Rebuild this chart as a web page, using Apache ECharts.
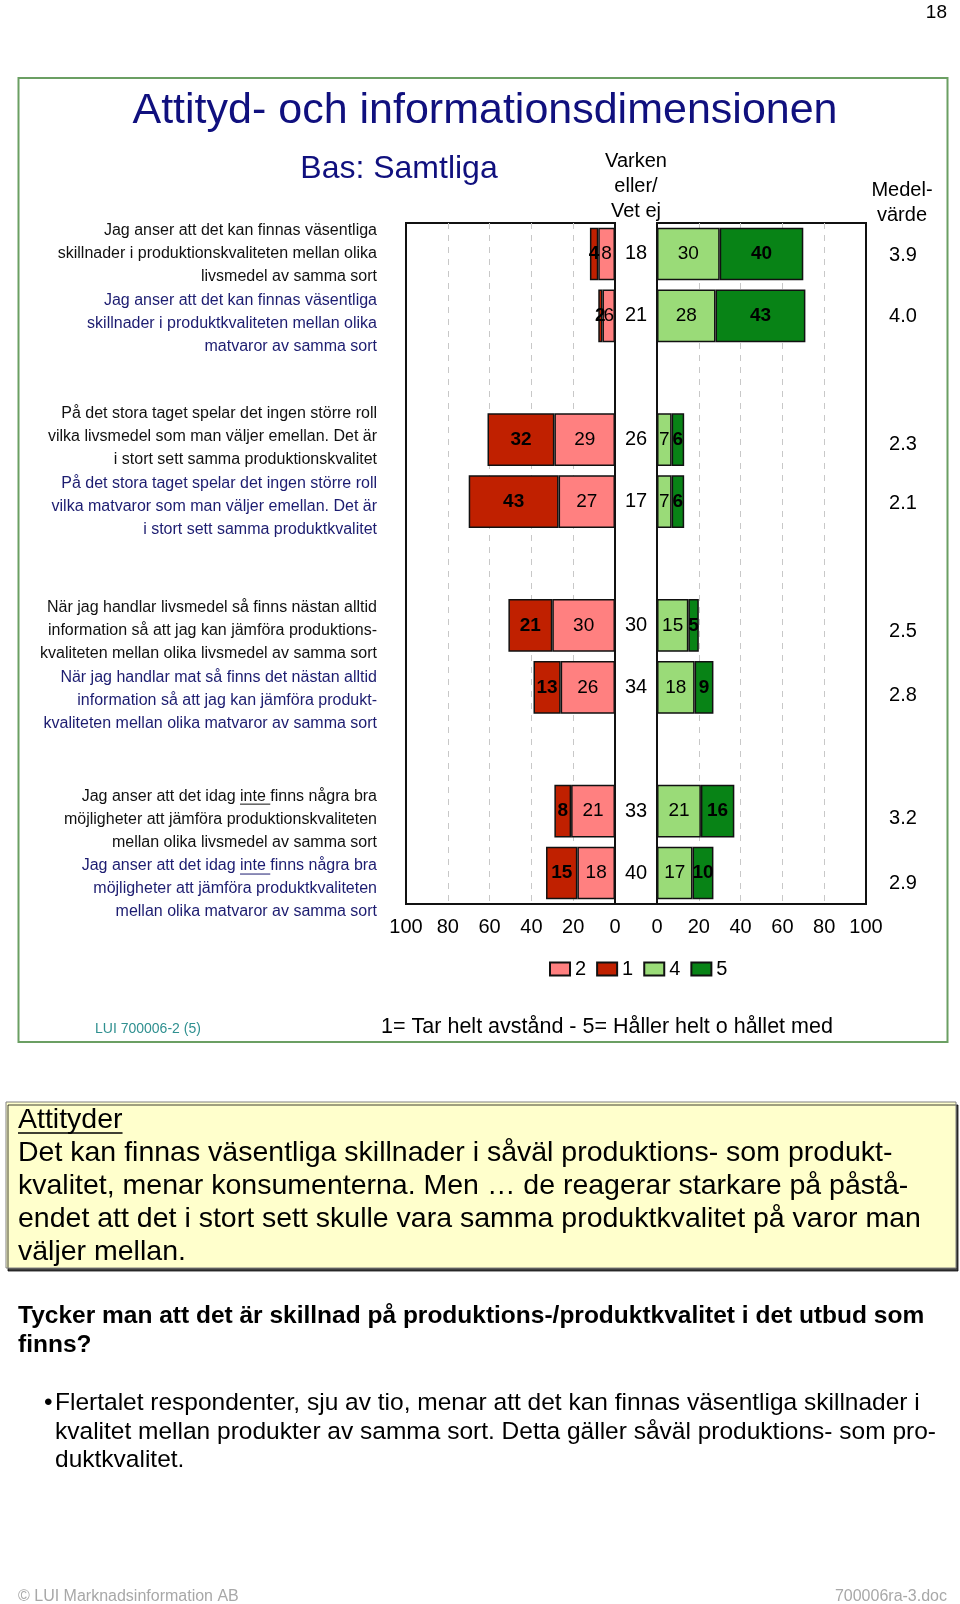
<!DOCTYPE html>
<html><head><meta charset="utf-8">
<script src="https://cdn.jsdelivr.net/npm/echarts@6/dist/echarts.min.js"></script>
<style>html,body{margin:0;padding:0;background:#fff}#c{position:absolute;left:0;top:0;width:960px;height:1604px}</style>
</head><body><div id="c"></div>
<script>
// ---------- data ----------
const statements = [
 'Jag anser att det kan finnas väsentliga\nskillnader i produktionskvaliteten mellan olika\nlivsmedel av samma sort',
 'Jag anser att det kan finnas väsentliga\nskillnader i produktkvaliteten mellan olika\nmatvaror av samma sort',
 'På det stora taget spelar det ingen större roll\nvilka livsmedel som man väljer emellan. Det är\ni stort sett samma produktionskvalitet',
 'På det stora taget spelar det ingen större roll\nvilka matvaror som man väljer emellan. Det är\ni stort sett samma produktkvalitet',
 'När jag handlar livsmedel så finns nästan alltid\ninformation så att jag kan jämföra produktions-\nkvaliteten mellan olika livsmedel av samma sort',
 'När jag handlar mat så finns det nästan alltid\ninformation så att jag kan jämföra produkt-\nkvaliteten mellan olika matvaror av samma sort',
 'Jag anser att det idag inte finns några bra\nmöjligheter att jämföra produktionskvaliteten\nmellan olika livsmedel av samma sort',
 'Jag anser att det idag inte finns några bra\nmöjligheter att jämföra produktkvaliteten\nmellan olika matvaror av samma sort'
];
const val1 = [4, 2, 32, 43, 21, 13, 8, 15];      // 1 = Tar helt avstånd
const val2 = [8, 6, 29, 27, 30, 26, 21, 18];     // 2
const valNeutral = [18, 21, 26, 17, 30, 34, 33, 40]; // Varken eller / Vet ej
const val4 = [30, 28, 7, 7, 15, 18, 21, 17];     // 4
const val5 = [40, 43, 6, 6, 5, 9, 16, 10];       // 5 = Håller helt o hållet med
const medelvarde = ['3.9', '4.0', '2.3', '2.1', '2.5', '2.8', '3.2', '2.9'];
const legendNames = ['2', '1', '4', '5'];
const neutralHeader = 'Varken\neller/\nVet ej';

// ---------- layout ----------
const FF = '"Liberation Sans", Arial, Helvetica, sans-serif';
const G_TOP = 223, G_H = 681, L_LEFT = 406, PW = 209, MW = 42;
const R_LEFT = L_LEFT + PW + MW;
const LABEL_MARGIN = 29;
// vertical nudges (px) of the text columns relative to the bar rows
const stmtShift = [0, 8, -3, 5, 5, 13, 8, 16];
const meanShift = [2, 1, 5, 2, 6, 8, 7, 10];

const slotIds = [], slotRow = [];
statements.forEach((s, i) => {
  slotIds.push('r' + i); slotRow.push(i);
  if (i % 2 === 1 && i < statements.length - 1) { slotIds.push('gap' + i); slotRow.push(null); }
});
const toSlots = arr => slotRow.map(r => r === null ? '-' : arr[r]);

const stmtRich = {
  a: { fontSize: 16, lineHeight: 23, color: '#111', fontFamily: FF },
  b: { fontSize: 16, lineHeight: 23, color: '#1c1c70', fontFamily: FF }
};
const meanRich = { m: { fontSize: 20, lineHeight: 24, color: '#000', fontFamily: FF, align: 'center' } };
stmtShift.forEach((s, r) => { stmtRich['sp' + r] = { fontSize: 1, lineHeight: Math.max(1, Math.abs(2 * s)) }; });
meanShift.forEach((s, r) => { meanRich['sp' + r] = { fontSize: 1, lineHeight: Math.max(1, Math.abs(2 * s)) }; });
function withShift(body, r, s) {
  if (s > 0) return '{sp' + r + '| }\n' + body;
  if (s < 0) return body + '\n{sp' + r + '| }';
  return body;
}
function stmtLabel(value, index) {
  const r = slotRow[index];
  if (r === null || r === undefined) return '';
  const st = r % 2 === 0 ? 'a' : 'b';
  const body = statements[r].split('\n').map(l => '{' + st + '|' + l + '}').join('\n');
  return withShift(body, r, stmtShift[r]);
}
function meanLabel(value, index) {
  const r = slotRow[index];
  if (r === null || r === undefined) return '';
  return withShift('{m|' + medelvarde[r] + '}', r, meanShift[r]);
}

const barLabel = bold => ({
  show: true, position: 'inside', color: '#000', fontSize: 19, fontFamily: FF,
  fontWeight: bold ? 'bold' : 'normal', textBorderWidth: 0
});
const bar = (name, data, color, axis, bold) => ({
  name, type: 'bar', xAxisIndex: axis, yAxisIndex: axis, stack: axis === 0 ? 'neg' : 'pos',
  data: toSlots(data), barWidth: '85%',
  itemStyle: { color, borderColor: '#111', borderWidth: 1.5 },
  label: barLabel(bold), emphasis: { disabled: true }
});

const splitLine = { show: true, showMinLine: false, showMaxLine: false,
  lineStyle: { color: '#c8c8c8', type: [6, 6], width: 1 } };
const valueAxisLabel = { fontSize: 20, color: '#000', fontFamily: FF, margin: 13 };

function txt(text, x, y, o) {
  return { type: 'text', x, y, silent: true,
    style: Object.assign({ text, fill: '#000', fontSize: 20, fontFamily: FF,
      textAlign: 'left', textVerticalAlign: 'middle', align: 'left', verticalAlign: 'middle' }, o) };
}

const graphics = [
  txt('18', 947, 13, { fontSize: 19, textAlign: 'right', align: 'right' }),
  { type: 'rect', silent: true, z: -10, shape: { x: 18.5, y: 78, width: 929, height: 964 },
    style: { fill: 'none', stroke: '#6b9f63', lineWidth: 2 } },
  txt('Attityd- och informationsdimensionen', 485, 111, { fontSize: 43, fill: '#10107e', textAlign: 'center', align: 'center' }),
  txt('Bas: Samtliga', 399, 169, { fontSize: 32, fill: '#10107e', textAlign: 'center', align: 'center' }),
  txt('Medel-\nvärde', 902, 203, { fontSize: 20, lineHeight: 25, textAlign: 'center', align: 'center' }),
  txt('LUI 700006-2 (5)', 95, 1029, { fontSize: 14, fill: '#2f9090' }),
  txt('1= Tar helt avstånd - 5= Håller helt o hållet med', 607, 1027, { fontSize: 21.5, textAlign: 'center', align: 'center' }),
  { type: 'rect', silent: true, shape: { x: 6, y: 1102, width: 950, height: 166 },
    style: { fill: '#FFFFCC', stroke: '#808080', lineWidth: 1, shadowColor: 'rgba(0,0,0,0.75)', shadowOffsetX: 2, shadowOffsetY: 3, shadowBlur: 0 } },
  txt('Attityder\nDet kan finnas väsentliga skillnader i såväl produktions- som produkt-\nkvalitet, menar konsumenterna. Men … de reagerar starkare på påstå-\nendet att det i stort sett skulle vara samma produktkvalitet på varor man\nväljer mellan.',
      18, 1104, { fontSize: 28.5, lineHeight: 33, textVerticalAlign: 'top', verticalAlign: 'top' }),
  txt('Tycker man att det är skillnad på produktions-/produktkvalitet i det utbud som\nfinns?',
      18, 1302, { fontSize: 24.5, fontWeight: 'bold', lineHeight: 29, textVerticalAlign: 'top', verticalAlign: 'top' }),
  txt('•', 44, 1403, { fontSize: 24.5 }),
  txt('Flertalet respondenter, sju av tio, menar att det kan finnas väsentliga skillnader i\nkvalitet mellan produkter av samma sort. Detta gäller såväl produktions- som pro-\nduktkvalitet.',
      55, 1389, { fontSize: 24.5, lineHeight: 28.5, textVerticalAlign: 'top', verticalAlign: 'top' }),
  txt('© LUI Marknadsinformation AB', 18, 1597, { fontSize: 16, fill: '#a8a8a8' }),
  txt('700006ra-3.doc', 947, 1597, { fontSize: 16, fill: '#a8a8a8', textAlign: 'right', align: 'right' })
];

const option = {
  backgroundColor: '#fff',
  animation: false,
  textStyle: { fontFamily: FF },
  legend: {
    data: legendNames, left: 549, top: 959, padding: 0, itemWidth: 20, itemHeight: 13, itemGap: 10,
    icon: 'rect', selectedMode: false,
    textStyle: { fontSize: 20, color: '#000', fontFamily: FF }
  },
  grid: [
    { left: L_LEFT, top: G_TOP, width: PW, height: G_H, show: true, borderColor: '#111', borderWidth: 2, backgroundColor: '#fff', outerBoundsMode: 'none' },
    { left: R_LEFT, top: G_TOP, width: PW, height: G_H, show: true, borderColor: '#111', borderWidth: 2, backgroundColor: '#fff', outerBoundsMode: 'none' },
    { left: L_LEFT + PW, top: G_TOP, width: MW, height: G_H, outerBoundsMode: 'none' }
  ],
  xAxis: [
    { gridIndex: 0, type: 'value', min: 0, max: 100, interval: 20, inverse: true, position: 'bottom',
      axisLine: { show: false }, axisTick: { show: false }, axisLabel: valueAxisLabel, splitLine },
    { gridIndex: 1, type: 'value', min: 0, max: 100, interval: 20, position: 'bottom',
      axisLine: { show: false }, axisTick: { show: false }, axisLabel: valueAxisLabel, splitLine },
    { gridIndex: 2, type: 'category', data: [neutralHeader], position: 'top',
      axisLine: { show: false }, axisTick: { show: false }, splitLine: { show: false },
      axisLabel: { fontSize: 20, lineHeight: 25, color: '#000', fontFamily: FF, margin: -1 } },
    { gridIndex: 2, type: 'category', data: [neutralHeader], position: 'bottom',
      axisLine: { show: true, lineStyle: { color: '#111', width: 2 } }, axisTick: { show: false },
      axisLabel: { show: false }, splitLine: { show: false } }
  ],
  yAxis: [
    { gridIndex: 0, type: 'category', data: slotIds, inverse: true,
      axisLine: { show: false }, axisTick: { show: false },
      axisLabel: { interval: 0, margin: LABEL_MARGIN, formatter: stmtLabel, rich: stmtRich } },
    { gridIndex: 1, type: 'category', data: slotIds, inverse: true, position: 'right',
      axisLine: { show: false }, axisTick: { show: false },
      axisLabel: { interval: 0, margin: 37, align: 'center', formatter: meanLabel, rich: meanRich } },
    { gridIndex: 2, type: 'category', data: slotIds, inverse: true, show: false }
  ],
  series: [
    bar('2', val2, '#FF8080', 0, false),
    bar('1', val1, '#C02000', 0, true),
    bar('4', val4, '#9ADB78', 1, false),
    bar('5', val5, '#088316', 1, true),
    { name: 'Varken eller/Vet ej', type: 'scatter', xAxisIndex: 2, yAxisIndex: 2,
      symbolSize: 2, itemStyle: { color: 'rgba(255,255,255,0)', opacity: 1 }, emphasis: { disabled: true },
      data: slotRow.map((r, s) => r === null ? null : [0, s, valNeutral[r]]).filter(d => d),
      label: { show: true, position: 'inside', fontSize: 20, color: '#000', opacity: 1, fontFamily: FF,
        formatter: p => String(p.value[2]) } }
  ],
  graphic: graphics
};

const chart = echarts.init(document.getElementById('c'), null, { renderer: 'canvas' });
chart.setOption(option);

// underline decorations ("inte", "Attityder")
const mctx = document.createElement('canvas').getContext('2d');
const measure = (t, size, w) => { mctx.font = (w || '') + ' ' + size + 'px ' + FF; return mctx.measureText(t).width; };
const extra = [];
const rightX = chart.convertToPixel({ xAxisIndex: 0 }, 100) - LABEL_MARGIN;
[6, 7].forEach(r => {
  const slot = slotRow.indexOf(r);
  const yc = chart.convertToPixel({ yAxisIndex: 0 }, slotIds[slot]);
  const lineY = yc + stmtShift[r] - 34.5 + 11.5 + 8;
  const first = statements[r].split('\n')[0];
  const after = first.slice(first.indexOf('inte') + 5);
  const x1 = rightX - measure(first.slice(first.indexOf('inte')), 16);
  const x2 = rightX - measure(after, 16);
  extra.push({ type: 'line', silent: true, shape: { x1, y1: lineY, x2, y2: lineY },
    style: { stroke: r % 2 === 0 ? '#111' : '#1c1c70', lineWidth: 1 } });
});
const aw = measure('Attityder', 28.5);
extra.push({ type: 'line', silent: true, shape: { x1: 18, y1: 1133, x2: 18 + aw, y2: 1133 }, style: { stroke: '#000', lineWidth: 1.5 } });
chart.setOption({ graphic: graphics.concat(extra) });
</script>
</body></html>
